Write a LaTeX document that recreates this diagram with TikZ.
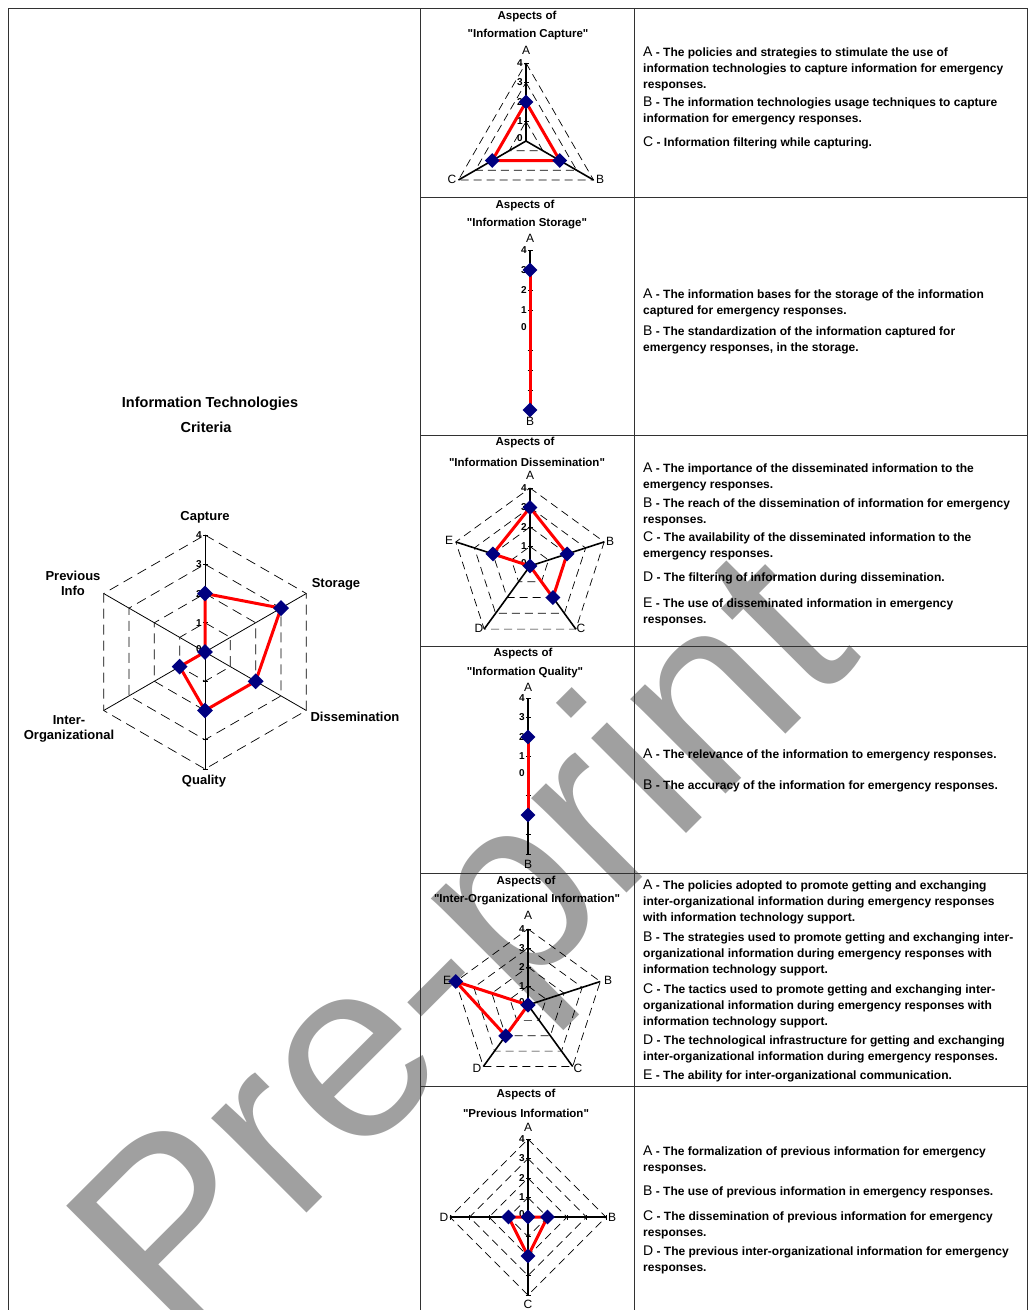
\documentclass[tikz,border=0pt]{standalone}
\usepackage{fontspec}
\setmainfont{Liberation Sans}[Ligatures=TeXOff]
\usetikzlibrary{shapes.geometric}
\definecolor{navy}{RGB}{0,0,128}
\definecolor{wmgray}{RGB}{160,160,160}
\definecolor{rulegray}{RGB}{50,50,50}

% key letter at the start of a description
\newcommand\itemkey[1]{{\mdseries\fontsize{14}{16}\selectfont #1}}
\newcommand\nextline{\\\strut}
% straight double quote
\newcommand\dq{\symbol{34}}

% radar chart: #1 prefix, #2/#3 centre, #4 number of axes, #5 radius,
% #6 values (0..4), #7 indices of the axes that carry tick marks
\newcommand\radar[7]{%
  \begin{scope}[shift={(#2,#3)}]
    \coordinate (#1-o) at (0,0);
    \pgfmathsetmacro\rstep{#5/4}
    \pgfmathtruncatemacro\lastk{#4-1}
    \ifnum#4>2
      \foreach \lev in {1,...,4} {
        \draw[ring] (-90:{\lev*\rstep})
          \foreach \k in {1,...,\lastk} { -- ({-90+\k*360/#4}:{\lev*\rstep}) } -- cycle;
      }
    \fi
    \foreach \v [count=\k from 0] in {#6} {
      \coordinate (#1-a\k) at ({-90+\k*360/#4}:#5);
      \coordinate (#1-p\k) at ({-90+\k*360/#4}:{\v*\rstep});
      \draw[axisline] (#1-o) -- (#1-a\k);
    }
    \foreach \ax in {#7} {
      \foreach \lev in {1,...,4} {
        \draw[tickmark] ({-90+\ax*360/#4}:{\lev*\rstep}) ++({\ax*360/#4}:2.5) -- ++({180+\ax*360/#4}:5);
      }
    }
    \foreach \lev in {0,...,4} {
      \node[numlbl] (#1-n\lev) at (-3,{-\lev*\rstep-(\lev==0)*3}) {\lev};
    }
    \draw[dataline] (#1-p0) \foreach \k in {1,...,\lastk} { -- (#1-p\k) } -- cycle;
    \foreach \k in {0,...,\lastk} { \node[datapt] (#1-d\k) at (#1-p\k) {}; }
  \end{scope}
}

\begin{document}
\begin{tikzpicture}[x=1pt,y=-1pt,
  cell/.style={draw=rulegray, line width=1pt},
  ring/.style={draw=black, line width=0.7pt, dash pattern=on 8pt off 5pt},
  axisline/.style={draw=black, line width=1.6pt},
  tickmark/.style={draw=black, line width=1pt},
  dataline/.style={draw=red, line width=3pt, line join=round},
  datapt/.style={diamond, fill=navy, inner sep=0pt, minimum size=15pt},
  numlbl/.style={font=\fontsize{10}{10}\selectfont\bfseries, inner sep=0pt, anchor=east},
  axlbl/.style={font=\fontsize{12}{12}\selectfont, inner sep=0pt},
  charttitle/.style={font=\fontsize{11.5}{12}\selectfont\bfseries, inner sep=0pt},
  catlbl/.style={font=\fontsize{13}{15}\selectfont\bfseries, inner sep=0pt, align=center},
  desc/.style={anchor=north west, inner sep=0pt, align=left, font=\fontsize{12}{16}\selectfont\bfseries},
  wm/.style={text=wmgray, font=\fontsize{254}{254}\selectfont, inner sep=0pt},
]
\useasboundingbox (0,0) rectangle (1028,1310);

% watermark behind everything
\node[wm, rotate=45, anchor=base west] (wmark) at (175,1345) {Pre-print};

% ---------- table rules ----------
\draw[cell] (8,8) -- (1027,8);
\draw[cell] (8,8) -- (8,1310);
\draw[cell] (420,8) -- (420,1310);
\draw[cell] (634,8) -- (634,1310);
\draw[cell] (1027,8) -- (1027,1310);
\foreach \yy in {197,435,646,873,1086} { \draw[cell] (420,\yy) -- (1027,\yy); }

% ---------- overall criteria chart ----------
\node[font=\fontsize{14.5}{15}\selectfont\bfseries, inner sep=0pt] (maint1) at (210,404) {Information Technologies};
\node[font=\fontsize{14.5}{15}\selectfont\bfseries, inner sep=0pt] (maint2) at (206,427) {Criteria};
\begin{scope}[axisline/.style={draw=black, line width=0.8pt},
              ring/.style={draw=black, line width=0.7pt, dash pattern=on 10pt off 6pt},
              datapt/.style={diamond, fill=navy, inner sep=0pt, minimum size=16pt},
              numlbl/.style={font=\fontsize{10}{10}\selectfont\bfseries, inner sep=0pt, anchor=east}]
  \radar{main}{205}{652}{6}{117}{2,3,2,2,1,0}{0,3}
\end{scope}
\node[catlbl] (lcap) at (205,517) {Capture};
\node[catlbl] (lsto) at (336,584) {Storage};
\node[catlbl] (ldis) at (355,717) {Dissemination};
\node[catlbl] (lqua) at (204,781) {Quality};
\node[catlbl] (lint) at (69,729) {Inter-\\Organizational};
\node[catlbl] (lpre) at (73,583) {Previous\\Info};

% ---------- information capture ----------
\node[charttitle] (capt1) at (527,17) {Aspects of};
\node[charttitle] (capt2) at (528,35) {\dq Information Capture\dq};
\radar{cap}{526}{141}{3}{78}{2,2,2}{0}
\node[axlbl] (capA) at (526,50) {A};
\node[axlbl] (capB) at (600,179) {B};
\node[axlbl] (capC) at (452,179) {C};

% ---------- information storage ----------
\node[charttitle] (stot1) at (525,206) {Aspects of};
\node[charttitle] (stot2) at (527,224) {\dq Information Storage\dq};
\radar{sto}{530}{330}{2}{80}{3,4}{0,1}
\node[axlbl] (stoA) at (530,238) {A};
\node[axlbl] (stoB) at (530,421) {B};

% ---------- information dissemination ----------
\node[charttitle] (dist1) at (525,443) {Aspects of};
\node[charttitle] (dist2) at (527,462) {\dq Information Dissemination\dq};
\radar{dis}{530}{566}{5}{78}{3,2,2,0,2}{0}
\node[axlbl] (disA) at (530,475) {A};
\node[axlbl] (disB) at (610,541) {B};
\node[axlbl] (disC) at (581,628) {C};
\node[axlbl] (disD) at (479,628) {D};
\node[axlbl] (disE) at (449,540) {E};

% ---------- information quality ----------
\node[charttitle] (quat1) at (523,654) {Aspects of};
\node[charttitle] (quat2) at (525,673) {\dq Information Quality\dq};
\radar{qua}{528}{776}{2}{78}{2,2}{0,1}
\node[axlbl] (quaA) at (528,687) {A};
\node[axlbl] (quaB) at (528,864) {B};

% ---------- inter-organizational information ----------
\node[charttitle] (intt1) at (526,882) {Aspects of};
\node[charttitle] (intt2) at (527,900) {\dq Inter-Organizational Information\dq};
\radar{int}{528}{1005}{5}{76}{0,0,0,2,4}{0}
\node[axlbl] (intA) at (528,915) {A};
\node[axlbl] (intB) at (608,980) {B};
\node[axlbl] (intC) at (578,1068) {C};
\node[axlbl] (intD) at (477,1068) {D};
\node[axlbl] (intE) at (447,980) {E};

% ---------- previous information ----------
\node[charttitle] (pret1) at (526,1095) {Aspects of};
\node[charttitle] (pret2) at (526,1113) {\dq Previous Information\dq};
\radar{pre}{528}{1217}{4}{78}{0,1,2,1}{0,1,2,3}
\node[axlbl] (preA) at (528,1127) {A};
\node[axlbl] (preB) at (612,1217) {B};
\node[axlbl] (preC) at (528,1304) {C};
\node[axlbl] (preD) at (444,1217) {D};

% ---------- descriptions ----------
\node[desc] (d1a) at (643,45) {\strut\itemkey{A} - The policies and strategies to stimulate the use of\nextline information technologies to capture information for emergency\nextline responses.};
\node[desc] (d1b) at (643,95) {\strut\itemkey{B} - The information technologies usage techniques to capture\nextline information for emergency responses.};
\node[desc] (d1c) at (643,135) {\strut\itemkey{C} - Information filtering while capturing.};

\node[desc] (d2a) at (643,287) {\strut\itemkey{A} - The information bases for the storage of the information\nextline captured for emergency responses.};
\node[desc] (d2b) at (643,324) {\strut\itemkey{B} - The standardization of the information captured for\nextline emergency responses, in the storage.};

\node[desc] (d3a) at (643,461) {\strut\itemkey{A} - The importance of the disseminated information to the\nextline emergency responses.};
\node[desc] (d3b) at (643,496) {\strut\itemkey{B} - The reach of the dissemination of information for emergency\nextline responses.};
\node[desc] (d3c) at (643,530) {\strut\itemkey{C} - The availability of the disseminated information to the\nextline emergency responses.};
\node[desc] (d3d) at (643,570) {\strut\itemkey{D} - The filtering of information during dissemination.};
\node[desc] (d3e) at (643,596) {\strut\itemkey{E} - The use of disseminated information in emergency\nextline responses.};

\node[desc] (d4a) at (643,747) {\strut\itemkey{A} - The relevance of the information to emergency responses.};
\node[desc] (d4b) at (643,778) {\strut\itemkey{B} - The accuracy of the information for emergency responses.};

\node[desc] (d5a) at (643,878) {\strut\itemkey{A} - The policies adopted to promote getting and exchanging\nextline inter-organizational information during emergency responses\nextline with information technology support.};
\node[desc] (d5b) at (643,930) {\strut\itemkey{B} - The strategies used to promote getting and exchanging inter-\nextline organizational information during emergency responses with\nextline information technology support.};
\node[desc] (d5c) at (643,982) {\strut\itemkey{C} - The tactics used to promote getting and exchanging inter-\nextline organizational information during emergency responses with\nextline information technology support.};
\node[desc] (d5d) at (643,1033) {\strut\itemkey{D} - The technological infrastructure for getting and exchanging\nextline inter-organizational information during emergency responses.};
\node[desc] (d5e) at (643,1068) {\strut\itemkey{E} - The ability for inter-organizational communication.};

\node[desc] (d6a) at (643,1144) {\strut\itemkey{A} - The formalization of previous information for emergency\nextline responses.};
\node[desc] (d6b) at (643,1184) {\strut\itemkey{B} - The use of previous information in emergency responses.};
\node[desc] (d6c) at (643,1209) {\strut\itemkey{C} - The dissemination of previous information for emergency\nextline responses.};
\node[desc] (d6d) at (643,1244) {\strut\itemkey{D} - The previous inter-organizational information for emergency\nextline responses.};
\end{tikzpicture}
\end{document}
